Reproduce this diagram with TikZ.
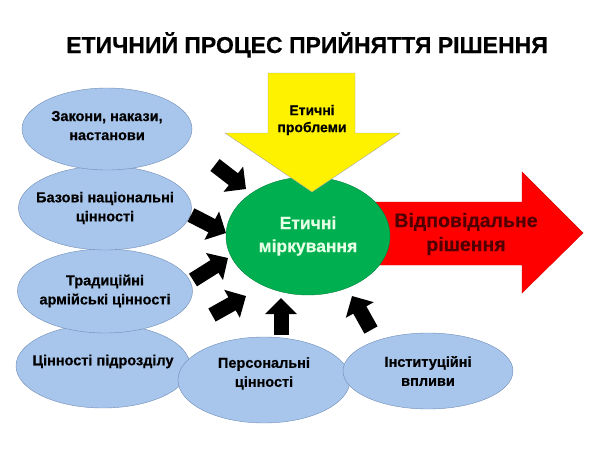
\documentclass[tikz,border=0pt]{standalone}
\usepackage{fontspec}
\setmainfont{Liberation Sans}[BoldFeatures={FakeBold=0.4}]
\usetikzlibrary{shapes.geometric,arrows.meta,positioning}
\definecolor{valfill}{RGB}{168,198,236}
\definecolor{valline}{RGB}{112,140,182}
\definecolor{thinkgreen}{RGB}{0,176,80}
\definecolor{decred}{RGB}{80,0,0}
\tikzstyle{value} = [ellipse, inner xsep=-16pt, inner ysep=0pt, align=center, draw=valline, fill=valfill, font=\bfseries\fontsize{14.5}{19}\selectfont]
\tikzstyle{think} = [ellipse, inner sep=0pt, align=center, draw=thinkgreen!75!black, fill=thinkgreen, text=white!90!green, font=\bfseries\fontsize{17.5}{23}\selectfont]
\tikzstyle{push} = [line width=15pt, -{Triangle[width=31pt,length=16pt]}]

\begin{document}
\begin{tikzpicture}[x=1pt, y=-1pt]
\useasboundingbox (0,0) rectangle (600,450);
\fill[white] (0,0) rectangle (600,450);
\node (title) [anchor=base, font=\bfseries\fontsize{23}{27}\selectfont] at (307,53) {ЕТИЧНИЙ ПРОЦЕС ПРИЙНЯТТЯ РІШЕННЯ};

% values on the left and below
\node (unit) [value, minimum width=174pt, minimum height=84pt] at (103,366) {Цінності підрозділу\\[-7pt]};
\node (army) [value, minimum width=175pt, minimum height=84pt] at (105,291) {Традиційні\\армійські цінності};
\node (nation) [value, minimum width=173pt, minimum height=84pt] at (105,208) {Базові національні\\цінності};
\node (law) [value, minimum width=170pt, minimum height=82pt] at (107,129) {Закони, накази,\\настанови\\[-12pt]};
\node (person) [value, minimum width=172pt, minimum height=86pt] at (264,380) {Персональні\\цінності\\[-3pt]};
\node (inst) [value, minimum width=170pt, minimum height=76pt] at (428,371) {Інституційні\\впливи};

% decision arrow
\draw[fill=red, draw=red!85!black] (360,202) -- (522,202) -- (522,172) -- (583,233) -- (522,293) -- (522,265) -- (360,265) -- cycle;
\node (decision) [text=decred, align=center, font=\bfseries\fontsize{19.5}{24}\selectfont] at (466,234) {Відповідальне\\рішення};

\node (reason) [think, minimum width=164pt, minimum height=118pt] at (308,236) {Етичні\\міркування};

% problem arrow
\draw[fill=yellow, draw=black!35] (268,73) -- (355,73) -- (355,133) -- (400,133) -- (312,192) -- (225,133) -- (268,133) -- cycle;
\node (problem) [align=center, font=\bfseries\fontsize{14}{17}\selectfont] at (312,120) {Етичні\\проблеми};

% small arrows
\coordinate (t1) at (215,165);
\coordinate (h1) at (246,189);
\coordinate (t2) at (191,215);
\coordinate (h2) at (226,233);
\coordinate (t3) at (193,280);
\coordinate (h3) at (228,258);
\coordinate (t4) at (212,315);
\coordinate (h4) at (246,296);
\coordinate (t5) at (281,335);
\coordinate (h5) at (281,298);
\coordinate (t6) at (371,330);
\coordinate (h6) at (352,296);
\draw [push] (t1) -- (h1);
\draw [push] (t2) -- (h2);
\draw [push] (t3) -- (h3);
\draw [push] (t4) -- (h4);
\draw [push] (t5) -- (h5);
\draw [push] (t6) -- (h6);
\end{tikzpicture}
\end{document}
